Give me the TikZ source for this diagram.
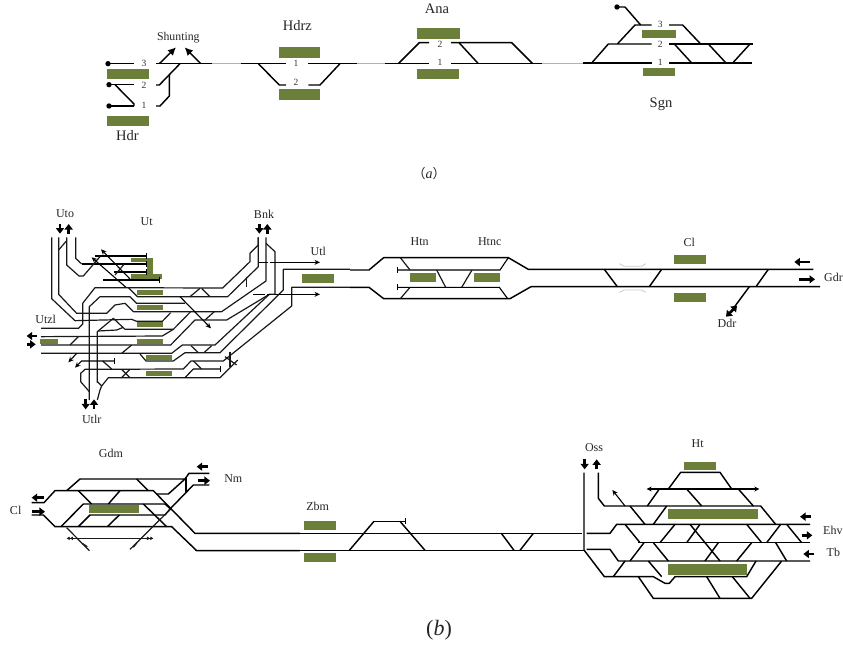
\documentclass[tikz,border=0pt]{standalone}
\usepackage{fontspec}
\setmainfont{Liberation Serif}
\newfontfamily\cjkparen{Noto Sans CJK SC}
\usetikzlibrary{arrows.meta}
\definecolor{plat}{HTML}{6B7F3A}
\tikzset{
  trk/.style={line width=1.45pt,black,line join=round},
  thin trk/.style={line width=1.2pt,black!90,line join=round},
  grayrail/.style={line width=1.3pt,black!30},
  palegray/.style={line width=.8pt,black!20},
  platform/.style={fill=plat,draw=none},
  blockarrow/.style={line width=2.6pt,-{Triangle[length=5.5pt,width=8pt]}},
  smallarrow/.style={line width=1.1pt,-{Stealth[length=5.5pt,width=5pt]}},
  stopbar/.style={line width=1.1pt,-{Bar[width=6pt]}},
  lab/.style={font=\fontsize{12}{14}\selectfont,text=black!85,inner sep=0pt},
  lablarge/.style={font=\fontsize{14.5}{16}\selectfont,text=black!85,inner sep=0pt},
  num/.style={font=\fontsize{9.5}{11}\selectfont,text=black!80,inner sep=0pt},
  zoomscope/.style={scale=0.33333}
}
\begin{document}
\begin{tikzpicture}[x=1pt,y=-1pt]
\fill[white] (0,0) rectangle (843,648);
\useasboundingbox (0,0) rectangle (843,648);

%% ---------- panel (a), left
\begin{scope}[shift={(90,0)},zoomscope]
\fill[platform] (51,207) rectangle (177,237);
\fill[platform] (51,348) rectangle (177,378);
\fill[platform] (567,141) rectangle (690,174);
\fill[platform] (567,267) rectangle (690,300);
\foreach \p in {(54,191),(57,254),(57,318)} \fill \p circle[radius=8pt];
\draw[trk] (54,191)--(132,191);
\draw[trk] (198,191)--(365,191);
\draw[grayrail] (365,191)--(453,191);
\draw[trk] (453,191)--(588,191);
\draw[trk] (655,191)--(800,191);
\draw[grayrail] (800,191)--(885,191);
\draw[trk] (57,254)--(132,254);
\draw[trk] (57,318)--(132,318);
\draw[trk] (75,254)--(132,312)--(132,318);
\draw[trk] (198,255)--(208,255)--(270,191);
\draw[trk] (198,318)--(210,318)--(238,288)--(238,225);
\draw[trk,-{Latex[length=8pt,width=8pt]}] (208,191)--(258,142);
\draw[trk,-{Latex[length=8pt,width=8pt]}] (332,191)--(284,142);
\draw[trk] (505,191)--(568,255)--(588,255);
\draw[trk] (655,255)--(690,255)--(750,191);
\node[num] (a3) at (162,190) {3};
\node[num] (a2) at (162,255) {2};
\node[num] (a1) at (162,316) {1};
\node[num] (hz1) at (618,189) {1};
\node[num] (hz2) at (618,247) {2};
\node[lablarge] (hdr) at (112,406) {Hdr};
\node[lablarge] (hdrz) at (622,76) {Hdrz};
\node[font=\fontsize{11.8}{14}\selectfont,text=black!85,inner sep=0pt] (shunt) at (265,112) {Shunting};
\end{scope}

%% ---------- panel (a), right
\begin{scope}[shift={(380,0)},zoomscope]
\fill[platform] (111,84) rectangle (240,117);
\fill[platform] (111,207) rectangle (237,237);
\fill[platform] (786,90) rectangle (888,114);
\fill[platform] (789,204) rectangle (885,228);
\draw[trk] (15,191)--(147,191);
\draw[trk] (213,191)--(485,191);
\draw[grayrail] (485,190)--(610,190);
\draw[trk] (610,189)--(815,189);
\draw[trk] (55,191)--(118,128)--(147,128);
\draw[trk] (213,128)--(395,128)--(458,191);
\draw[trk] (237,128)--(295,191);
\draw[trk] (635,189)--(685,132)--(815,132);
\draw[trk] (712,132)--(765,75)--(815,75);
\fill (711,21) circle[radius=8pt];
\draw[trk] (711,21)--(735,21)--(782,75);
\node[num] (s1) at (841,186) {1};
\node[num] (s2) at (841,132) {2};
\node[num] (s3) at (841,72) {3};
\node[num] (an1) at (180,186) {1};
\node[num] (an2) at (180,132) {2};
\node[lablarge] (ana) at (171,25) {Ana};
\node[lablarge] (sgn) at (843,313) {Sgn};
\node[font=\fontsize{14}{16}\selectfont,text=black!85,inner sep=0pt] (apanel) at (147,520) {{\cjkparen\fontsize{13}{16}\selectfont （}\textit{a}{\cjkparen\fontsize{13}{16}\selectfont ）}};
\end{scope}
\begin{scope}[shift={(640,0)},zoomscope]
\draw[trk] (87,75)--(128,75)--(182,132);
\draw[trk] (87,132)--(340,132);
\draw[trk] (87,189)--(335,189);
\draw[trk] (103,132)--(155,189);
\draw[trk] (205,132)--(258,189);
\draw[trk] (330,132)--(278,189);
\end{scope}

%% ---------- panel (b), Ut
\begin{scope}[shift={(20,200)},zoomscope]
\fill[platform] (333,174) rectangle (398,186);
\fill[platform] (382,174) rectangle (398,238);
\fill[platform] (333,222) rectangle (426,238);
\fill[platform] (351,270) rectangle (429,285);
\fill[platform] (351,316) rectangle (429,330);
\fill[platform] (351,365) rectangle (429,380);
\fill[platform] (351,417) rectangle (429,432);
\fill[platform] (378,464) rectangle (456,480);
\fill[platform] (378,512) rectangle (456,528);
\fill[platform] (60,417) rectangle (113,432);
\fill[platform] (846,222) rectangle (942,248);
\draw[blockarrow] (120,72)--(120,101);
\draw[blockarrow] (146,101)--(146,72);
\draw[blockarrow] (50,408)--(20,408);
\draw[blockarrow] (20,433)--(47,433);
\draw[blockarrow] (197,598)--(197,628);
\draw[blockarrow] (222,628)--(222,598);
\draw[blockarrow] (718,72)--(718,101);
\draw[blockarrow] (742,101)--(742,72);
% top yard
\draw[stopbar] (225,168)--(380,168);
\draw[stopbar] (185,192)--(380,192);
\draw[stopbar] (282,216)--(380,216);
\draw[stopbar] (250,240)--(420,240);
\draw[thin trk] (167,112)--(167,175)--(185,192);
\draw[thin trk] (140,112)--(140,195)--(177,228)--(190,228)--(240,170);
\draw[thin trk] (116,150)--(140,122);
\draw[smallarrow] (330,237)--(243,148);
\draw[smallarrow] (318,262)--(215,172);
\draw[thin trk] (312,193)--(285,225);
% main lines
\draw[thin trk] (63,385)--(175,385)--(188,372)--(188,310)--(225,263)--(608,264)--(690,185)--(690,160)--(715,135)--(715,112);
\draw[thin trk] (208,600)--(208,320)--(240,290)--(330,290)--(350,310)--(495,310);
\draw[thin trk] (325,263)--(352,290)--(623,290)--(715,200)--(715,112);
\draw[thin trk] (116,112)--(116,283)--(170,340)--(260,340)--(285,315)--(315,310)--(340,335)--(605,335)--(738,243)--(738,112);
\draw[thin trk] (95,112)--(95,296)--(165,362)--(335,358)--(350,364)--(427,364)--(452,338);
\draw[thin trk] (232,548)--(232,395)--(280,355)--(315,388)--(460,388)--(512,335);
\draw[thin trk] (235,393)--(290,390)--(310,382);
\draw[thin trk] (63,410)--(427,408)--(460,388);
\draw[thin trk] (63,435)--(452,435)--(525,360)--(620,360)--(748,283)--(765,283)--(765,155)--(738,130);
\draw[thin trk] (63,460)--(455,460)--(487,435)--(585,435)--(748,283);
\draw[thin trk] (495,458)--(600,458)--(790,270)--(790,208)--(990,208);
\draw[thin trk] (360,462)--(378,483)--(460,483)--(495,458);
\draw[thin trk] (208,575)--(182,545)--(182,520)--(195,508)--(490,507)--(513,483)--(610,483)--(815,318)--(815,262)--(990,262);
\draw[thin trk] (232,600)--(240,570)--(245,558)--(232,545);
\draw[thin trk] (245,558)--(265,533)--(600,533)--(653,480);
\draw[stopbar] (495,533)--(520,507)--(602,507);
\draw[thin trk] (513,437)--(535,458);
\draw[thin trk] (552,458)--(575,437);
\draw[thin trk] (520,483)--(545,507);
\draw[thin trk] (630,455)--(630,500);
\draw[thin trk] (615,470)--(650,495);
\draw[thin trk] (305,508)--(330,533);
\draw[thin trk] (330,508)--(305,533);
\draw[thin trk] (305,460)--(335,435);
\draw[thin trk] (248,483)--(275,507);
\draw[thin trk] (150,435)--(175,410);
\draw[thin trk] (510,290)--(540,265);
\draw[thin trk] (545,265)--(570,290);
\draw[thin trk] (680,230)--(680,262);
\draw[thin trk] (555,360)--(583,335);
\draw[smallarrow] (480,290)--(573,385);
\draw[smallarrow] (170,460)--(145,487);
\draw[stopbar,{Stealth[length=5.5pt,width=5pt]}-{Bar[width=6pt]}] (165,503)--(185,483)--(285,483);
\draw[smallarrow,dash pattern=on 9pt off 2pt on 60pt] (718,187)--(900,187);
\draw[smallarrow,dash pattern=on 12pt off 2pt on 4pt off 4pt on 60pt] (700,283)--(900,283);
\node[lab] (uto) at (135,42) {Uto};
\node[lab] (ut) at (380,66) {Ut};
\node[lab] (utzl) at (77,357) {Utzl};
\node[lab] (utlr) at (215,657) {Utlr};
\node[lab] (bnk) at (732,44) {Bnk};
\node[lab] (utl) at (895,155) {Utl};
\end{scope}

%% ---------- panel (b), Htn + Cl
\begin{scope}[shift={(340,220)},zoomscope]
\fill[platform] (210,159) rectangle (288,186);
\fill[platform] (402,159) rectangle (480,186);
\draw[trk] (30,150)--(87,150)--(131,113)--(505,113)--(565,148)--(1420,148);
\draw[trk] (30,202)--(87,202)--(131,236)--(510,236)--(573,200)--(1440,200);
\draw[stopbar,{Bar[width=6pt]}-] (172,150)--(480,150)--(505,113);
\draw[stopbar,{Bar[width=6pt]}-] (172,202)--(478,202)--(503,236);
\draw[thin trk] (181,113)--(210,150);
\draw[thin trk] (181,236)--(210,202);
\draw[thin trk] (290,150)--(317,202);
\draw[thin trk] (396,150)--(365,202);
\node[lab] (htn) at (239,65) {Htn};
\node[lab] (htnc) at (449,65) {Htnc};
\end{scope}
\begin{scope}[shift={(590,220)},zoomscope]
\fill[platform] (252,105) rectangle (348,131);
\fill[platform] (252,219) rectangle (348,245);
\draw[trk] (43,148)--(82,200);
\draw[trk] (215,148)--(178,200);
\draw[trk] (535,148)--(498,200);
\draw[palegray] (88,131)--(103,139)--(155,139)--(167,131);
\draw[palegray] (88,217)--(103,210)--(155,210)--(167,217);
\draw[trk] (478,200)--(425,272);
\draw[line width=2.6pt,{Triangle[length=5.5pt,width=8pt]}-{Triangle[length=5.5pt,width=8pt]}] (408,290)--(441,257);
\draw[blockarrow] (660,126)--(613,126);
\draw[blockarrow] (628,178)--(675,178);
\node[lab] (cl1) at (298,66) {Cl};
\node[lab] (ddr) at (411,309) {Ddr};
\node[lab,anchor=west] (gdr) at (702,171) {Gdr};
\end{scope}

%% ---------- panel (b), Gdm
\begin{scope}[shift={(0,435)},zoomscope]
\fill[platform] (267,209) rectangle (417,234);
\draw[blockarrow] (132,188)--(95,188);
\draw[blockarrow] (95,230)--(135,230);
\draw[blockarrow] (625,95)--(590,95);
\draw[blockarrow] (595,137)--(630,137);
\draw[trk] (95,203)--(132,203)--(165,167)--(460,167)--(585,295)--(900,295);
\draw[trk] (95,240)--(130,240)--(165,275)--(515,275)--(590,347)--(900,347);
\draw[trk] (200,167)--(240,132)--(555,132)--(505,177)--(470,177);
\draw[trk] (410,132)--(445,167);
\draw[trk] (235,167)--(275,207);
\draw[trk] (360,167)--(325,207);
\draw[trk] (183,275)--(250,207)--(495,207)--(512,222);
\draw[trk] (430,207)--(500,275);
\draw[trk] (235,275)--(270,240)--(495,240)--(510,222)--(580,150)--(628,150);
\draw[trk] (322,275)--(358,240);
\draw[trk] (555,132)--(567,115)--(628,115);
\draw[trk] (558,125)--(558,172);
\draw[thin trk] (512,222)--(390,343);
\draw[thin trk] (200,278)--(268,347);
\draw[thin trk] (200,310)--(460,310);
\draw[thin trk,{Latex[length=3pt,width=4pt]}-] (200,310)--(210,310);
\draw[thin trk,{Latex[length=3pt,width=4pt]}-] (210,310)--(220,310);
\draw[thin trk,-{Latex[length=3pt,width=4pt]}] (440,310)--(450,310);
\draw[thin trk,-{Latex[length=3pt,width=4pt]}] (450,310)--(460,310);
\draw[thin trk] (248,326)--(262,335);
\draw[thin trk] (400,337)--(412,322);
\node[lab] (gdm) at (333,54) {Gdm};
\node[lab] (cl2) at (47,225) {Cl};
\node[lab] (nm) at (700,131) {Nm};
\end{scope}

%% ---------- panel (b), Zbm
\begin{scope}[shift={(290,500)},zoomscope]
\fill[platform] (42,63) rectangle (138,90);
\fill[platform] (42,159) rectangle (138,186);
\draw[trk] (-285,100)--(875,100);
\draw[trk] (-285,151)--(885,151);
\draw[trk] (178,151)--(252,64);
\draw[stopbar] (252,64)--(348,64);
\draw[trk] (330,64)--(405,151);
\draw[trk] (634,100)--(672,151);
\draw[trk] (730,100)--(690,151);
\node[lab] (zbm) at (83,19) {Zbm};
\end{scope}

%% ---------- panel (b), Ht
\begin{scope}[shift={(570,430)},zoomscope]
\fill[platform] (294,237) rectangle (564,267);
\fill[platform] (294,403) rectangle (531,435);
\fill[platform] (342,96) rectangle (438,120);
\draw[blockarrow] (44,88)--(44,118);
\draw[blockarrow] (80,118)--(80,88);
\draw[blockarrow] (722,260)--(690,260);
\draw[blockarrow] (695,316)--(727,316);
\draw[blockarrow] (732,372)--(700,372);
\draw[trk] (50,310)--(120,310)--(140,283)--(720,283);
\draw[trk] (50,358)--(120,358)--(145,393)--(720,393);
\draw[trk] (42,128)--(42,360)--(103,440)--(250,440)--(285,460)--(298,460)--(315,440)--(530,440)--(558,393);
\draw[trk] (85,128)--(85,205)--(103,228)--(572,228)--(617,283);
\draw[trk] (232,228)--(268,177);
\draw[trk] (350,177)--(395,228);
\draw[line width=1.1pt,{Stealth[length=5pt,width=5pt]}-{Stealth[length=5pt,width=5pt]}] (230,177)--(568,177);
\draw[trk] (295,177)--(332,127)--(450,127)--(485,177);
\draw[trk] (505,177)--(550,228);
\draw[smallarrow] (165,228)--(127,180);
\draw[trk] (180,228)--(225,283);
\draw[trk] (250,283)--(290,228);
\draw[trk] (165,283)--(210,338);
\draw[trk] (205,338)--(720,338);
\draw[trk] (650,283)--(695,338);
\draw[trk] (270,338)--(315,283);
\draw[trk] (350,338)--(390,283);
\draw[trk] (360,283)--(405,338);
\draw[trk] (530,283)--(575,338);
\draw[trk] (590,338)--(632,283);
\draw[trk] (180,393)--(222,338);
\draw[trk] (250,338)--(295,393);
\draw[trk] (405,393)--(445,338);
\draw[trk] (405,338)--(450,393);
\draw[trk] (500,393)--(545,338);
\draw[trk] (617,338)--(650,393);
\draw[trk] (235,393)--(275,440);
\draw[trk] (130,440)--(165,393);
\draw[trk] (205,440)--(250,505)--(545,505)--(635,393);
\draw[trk] (410,440)--(450,505);
\draw[trk] (487,440)--(540,505);
\node[lab] (oss) at (72,52) {Oss};
\node[lab] (ht) at (383,42) {Ht};
\node[lab,anchor=west] (ehv) at (759,302) {Ehv};
\node[lab] (tb) at (790,366) {Tb};
\end{scope}

\node[font=\fontsize{22}{24}\selectfont,text=black!85,inner sep=0pt] (bpanel) at (439,630) {(\textit{b})};
\end{tikzpicture}
\end{document}
